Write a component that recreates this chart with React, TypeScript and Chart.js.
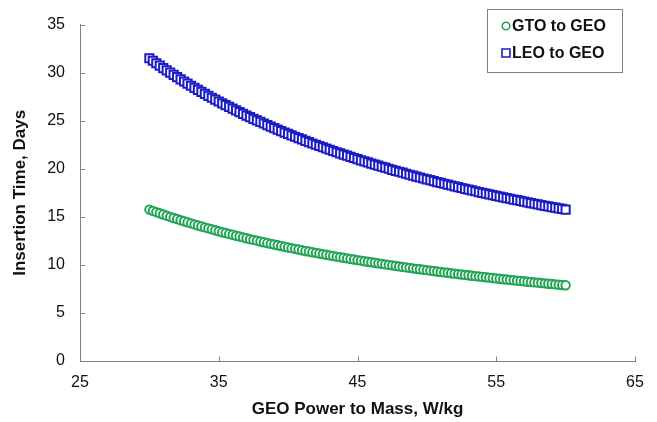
import React, { useEffect, useRef } from "react";
import { Chart, registerables } from "chart.js";

Chart.register(...registerables);

const xValues = [
  30, 30.25, 30.5, 30.75, 31, 31.25, 31.5, 31.75, 32, 32.25, 32.5, 32.75,
  33, 33.25, 33.5, 33.75, 34, 34.25, 34.5, 34.75, 35, 35.25, 35.5, 35.75,
  36, 36.25, 36.5, 36.75, 37, 37.25, 37.5, 37.75, 38, 38.25, 38.5, 38.75,
  39, 39.25, 39.5, 39.75, 40, 40.25, 40.5, 40.75, 41, 41.25, 41.5, 41.75,
  42, 42.25, 42.5, 42.75, 43, 43.25, 43.5, 43.75, 44, 44.25, 44.5, 44.75,
  45, 45.25, 45.5, 45.75, 46, 46.25, 46.5, 46.75, 47, 47.25, 47.5, 47.75,
  48, 48.25, 48.5, 48.75, 49, 49.25, 49.5, 49.75, 50, 50.25, 50.5, 50.75,
  51, 51.25, 51.5, 51.75, 52, 52.25, 52.5, 52.75, 53, 53.25, 53.5, 53.75,
  54, 54.25, 54.5, 54.75, 55, 55.25, 55.5, 55.75, 56, 56.25, 56.5, 56.75,
  57, 57.25, 57.5, 57.75, 58, 58.25, 58.5, 58.75, 59, 59.25, 59.5, 59.75,
  60,
];

const gtoValues = [
  15.75, 15.62, 15.49, 15.37, 15.24, 15.12, 15.0, 14.88, 14.77, 14.65, 14.54, 14.43,
  14.32, 14.21, 14.1, 14.0, 13.9, 13.8, 13.7, 13.6, 13.5, 13.4, 13.31, 13.22,
  13.13, 13.03, 12.95, 12.86, 12.77, 12.68, 12.6, 12.52, 12.43, 12.35, 12.27, 12.19,
  12.12, 12.04, 11.96, 11.89, 11.81, 11.74, 11.67, 11.6, 11.52, 11.45, 11.39, 11.32,
  11.25, 11.18, 11.12, 11.05, 10.99, 10.92, 10.86, 10.8, 10.74, 10.68, 10.62, 10.56,
  10.5, 10.44, 10.38, 10.33, 10.27, 10.22, 10.16, 10.11, 10.05, 10.0, 9.95, 9.9,
  9.84, 9.79, 9.74, 9.69, 9.64, 9.59, 9.55, 9.5, 9.45, 9.4, 9.36, 9.31,
  9.26, 9.22, 9.18, 9.13, 9.09, 9.04, 9.0, 8.96, 8.92, 8.87, 8.83, 8.79,
  8.75, 8.71, 8.67, 8.63, 8.59, 8.55, 8.51, 8.48, 8.44, 8.4, 8.36, 8.33,
  8.29, 8.25, 8.22, 8.18, 8.15, 8.11, 8.08, 8.04, 8.01, 7.97, 7.94, 7.91,
  7.88,
];

const leoValues = [
  31.5, 31.24, 30.98, 30.73, 30.48, 30.24, 30.0, 29.76, 29.53, 29.3, 29.08, 28.85,
  28.64, 28.42, 28.21, 28.0, 27.79, 27.59, 27.39, 27.19, 27.0, 26.81, 26.62, 26.43,
  26.25, 26.07, 25.89, 25.71, 25.54, 25.37, 25.2, 25.03, 24.87, 24.71, 24.55, 24.39,
  24.23, 24.08, 23.92, 23.77, 23.63, 23.48, 23.33, 23.19, 23.05, 22.91, 22.77, 22.63,
  22.5, 22.37, 22.24, 22.11, 21.98, 21.85, 21.72, 21.6, 21.48, 21.36, 21.24, 21.12,
  21.0, 20.88, 20.77, 20.66, 20.54, 20.43, 20.32, 20.21, 20.11, 20.0, 19.89, 19.79,
  19.69, 19.59, 19.48, 19.38, 19.29, 19.19, 19.09, 18.99, 18.9, 18.81, 18.71, 18.62,
  18.53, 18.44, 18.35, 18.26, 18.17, 18.09, 18.0, 17.91, 17.83, 17.75, 17.66, 17.58,
  17.5, 17.42, 17.34, 17.26, 17.18, 17.1, 17.03, 16.95, 16.88, 16.8, 16.73, 16.65,
  16.58, 16.51, 16.43, 16.36, 16.29, 16.22, 16.15, 16.09, 16.02, 15.95, 15.88, 15.82,
  15.75,
];

const seriesNames = ["GTO to GEO", "LEO to GEO"];
const xTitle = "GEO Power to Mass, W/kg";
const yTitle = "Insertion Time, Days";

const GREEN = "#22a455";
const BLUE = "#1c1cc4";
const AXIS = "#808080";
const FONT = "'Liberation Sans', Arial, sans-serif";

const inwardTicks = {
  id: "inwardTicks",
  afterDraw(chart: any) {
    const ctx = chart.ctx;
    const xs = chart.scales.x;
    const ys = chart.scales.y;
    const area = chart.chartArea;
    ctx.save();
    ctx.strokeStyle = AXIS;
    ctx.lineWidth = 1;
    ctx.beginPath();
    xs.ticks.forEach((t: any) => {
      const px = Math.round(xs.getPixelForValue(t.value)) + 0.5;
      ctx.moveTo(px, Math.round(area.bottom) + 0.5);
      ctx.lineTo(px, Math.round(area.bottom) - 4.5);
    });
    ys.ticks.forEach((t: any) => {
      const py = Math.round(ys.getPixelForValue(t.value)) + 0.5;
      ctx.moveTo(Math.round(area.left) + 0.5, py);
      ctx.lineTo(Math.round(area.left) + 5, py);
    });
    ctx.stroke();
    ctx.restore();
  },
};

const boxLegend = {
  id: "boxLegend",
  afterDraw(chart: any) {
    const ctx = chart.ctx;
    ctx.save();
    const bx = 487.5, by = 9.5, bw = 135, bh = 63;
    ctx.fillStyle = "#ffffff";
    ctx.fillRect(bx, by, bw, bh);
    ctx.strokeStyle = AXIS;
    ctx.lineWidth = 1;
    ctx.strokeRect(bx, by, bw, bh);
    const rows = [26, 53];
    chart.data.datasets.forEach((ds: any, i: number) => {
      const cy = rows[i];
      const cx = 506;
      ctx.lineWidth = 1.6;
      ctx.strokeStyle = ds.borderColor;
      ctx.fillStyle = "#ffffff";
      ctx.beginPath();
      if (ds.pointStyle === "rect") {
        ctx.rect(cx - 4, cy - 4, 8, 8);
      } else {
        ctx.arc(cx, cy, 3.8, 0, Math.PI * 2);
      }
      ctx.fill();
      ctx.stroke();
      ctx.fillStyle = "#111111";
      ctx.font = `bold 16px ${FONT}`;
      ctx.textBaseline = "middle";
      ctx.textAlign = "left";
      ctx.fillText(ds.label, 512, cy + 1);
    });
    ctx.restore();
  },
};

export default function App() {
  const canvasRef = useRef<HTMLCanvasElement>(null);

  useEffect(() => {
    const canvas = canvasRef.current;
    if (!canvas) return;
    const chart = new Chart(canvas, {
      type: "scatter",
      data: {
        datasets: [
          {
            label: seriesNames[0],
            data: xValues.map((x, i) => ({ x, y: gtoValues[i] })),
            pointStyle: "circle",
            pointRadius: 4.2,
            pointBorderWidth: 2,
            borderColor: GREEN,
            backgroundColor: "#ffffff",
            showLine: false,
          },
          {
            label: seriesNames[1],
            data: xValues.map((x, i) => ({ x, y: leoValues[i] })),
            pointStyle: "rect",
            pointRadius: 5.8,
            pointBorderWidth: 2,
            borderColor: BLUE,
            backgroundColor: "#ffffff",
            showLine: false,
          },
        ],
      },
      options: {
        animation: false,
        responsive: false,
        maintainAspectRatio: false,
        layout: { padding: { top: 17, right: 22, left: 0, bottom: 0 } },
        plugins: {
          legend: { display: false },
          tooltip: { enabled: false },
        },
        scales: {
          x: {
            type: "linear",
            min: 25,
            max: 65,
            afterFit: (s: any) => {
              s.height = 61;
            },
            ticks: {
              stepSize: 10,
              padding: 12,
              color: "#111111",
              font: { family: FONT, size: 16 },
            },
            grid: { display: false, drawTicks: false },
            border: { display: true, color: AXIS, width: 1 },
            title: {
              display: true,
              text: xTitle,
              color: "#111111",
              font: { family: FONT, size: 17, weight: "bold" },
              padding: { top: 0, bottom: 2 },
            },
          },
          y: {
            type: "linear",
            min: 0,
            max: 35,
            afterFit: (s: any) => {
              s.width = 80;
            },
            ticks: {
              stepSize: 5,
              padding: 15,
              color: "#111111",
              font: { family: FONT, size: 16 },
            },
            grid: { display: false, drawTicks: false },
            border: { display: true, color: AXIS, width: 1 },
            title: {
              display: true,
              text: yTitle,
              color: "#111111",
              font: { family: FONT, size: 17, weight: "bold" },
              padding: { top: 10, bottom: 0 },
            },
          },
        },
      },
      plugins: [inwardTicks, boxLegend],
    });
    return () => chart.destroy();
  }, []);

  return (
    <div style={{ position: "fixed", left: 0, top: 0, width: 657, height: 422, background: "#ffffff" }}>
      <canvas ref={canvasRef} width={657} height={422} style={{ width: 657, height: 422, display: "block" }} />
    </div>
  );
}
